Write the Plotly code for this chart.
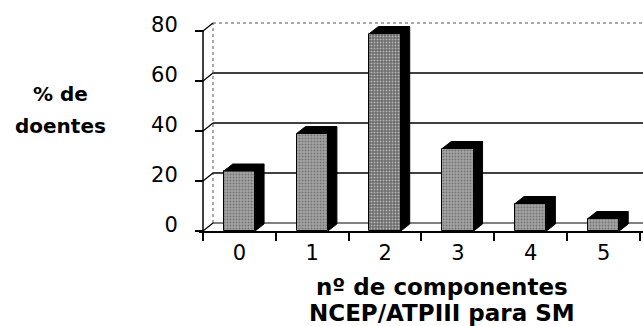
import plotly.graph_objects as go

# ---------------- data ----------------
categories = ["0", "1", "2", "3", "4", "5"]
values = [24, 39, 79, 33, 11, 5]
bar_colors = ["#a4a4a4", "#a4a4a4", "#6a6a6a", "#a4a4a4", "#a4a4a4", "#a4a4a4"]
y_ticks = [0, 20, 40, 60, 80]
y_title_lines = ["% de", "doentes"]
x_title_lines = ["nº de componentes", "NCEP/ATPIII para SM"]

# ---------------- geometry ----------------
W, H = 643, 326
ML, MR, MT, MB = 199, 0, 20, 95
pw, ph = W - ML - MR, H - MT - MB
XPX = 72.83            # pixels per category
YPX = 2.5              # pixels per percent
x_lo = -0.5 - (203 - ML) / XPX
x_hi = x_lo + pw / XPX
y_hi = ph / YPX
DXW, DYW = 10 / XPX, 8 / YPX      # wall depth
DX, DY = 9 / XPX, 7 / YPX         # bar depth
BW = 0.43
FONT = "DejaVu Sans"

xs = list(range(len(categories)))
edges = [i - 0.5 for i in range(len(categories) + 1)]
left = edges[0]

fig = go.Figure()

# front faces of bars
fig.add_trace(go.Bar(
    x=xs, y=values, width=BW,
    marker=dict(color=bar_colors, line=dict(color="black", width=1),
                pattern=dict(shape=".", fgcolor="#1a1a1a", bgcolor=bar_colors,
                             size=3, solidity=0.35)),
    hoverinfo="skip", showlegend=False))

# black side + top faces
px_, py_ = [], []
for i, v in zip(xs, values):
    r, l = i + BW / 2, i - BW / 2
    px_ += [r, r + DX, r + DX, r, r, None]
    py_ += [0, DY, v + DY, v, 0, None]
    px_ += [l, l + DX, r + DX, r, l, None]
    py_ += [v, v + DY, v + DY, v, v, None]
fig.add_trace(go.Scatter(x=px_, y=py_, mode="lines", fill="toself",
                         fillcolor="black", line=dict(color="black", width=1),
                         hoverinfo="skip", showlegend=False))

shapes = []
# back wall gridlines
for v in y_ticks[1:-1]:
    shapes.append(dict(type="line", xref="x", yref="y", layer="below",
                       x0=left + DXW, x1=x_hi, y0=v + DYW, y1=v + DYW,
                       line=dict(color="black", width=1.5)))
top = y_ticks[-1]
shapes.append(dict(type="line", xref="x", yref="y", layer="below",
                   x0=left + DXW, x1=x_hi, y0=top + DYW, y1=top + DYW,
                   line=dict(color="#555", width=1, dash="dot")))
shapes.append(dict(type="line", xref="x", yref="y", layer="below",
                   x0=left + DXW, x1=left + DXW, y0=DYW, y1=top + DYW,
                   line=dict(color="#555", width=1, dash="dot")))
# floor back line
shapes.append(dict(type="line", xref="x", yref="y", layer="below",
                   x0=left + DXW, x1=x_hi, y0=DYW, y1=DYW,
                   line=dict(color="black", width=1)))
# side wall diagonals
for v in y_ticks:
    shapes.append(dict(type="line", xref="x", yref="y", layer="below",
                       x0=left, x1=left + DXW, y0=v, y1=v + DYW,
                       line=dict(color="black", width=1.2)))
# front value axis
shapes.append(dict(type="line", xref="x", yref="y", layer="above",
                   x0=left, x1=left, y0=0, y1=top,
                   line=dict(color="black", width=1.5)))
fig.update_layout(shapes=shapes)

def px2paper(x, y):
    return (x - ML) / pw, (H - MB - y) / ph

ann = []
for text, (cx, cy) in zip(y_title_lines, [(60, 94), (60, 126)]):
    ax, ay = px2paper(cx, cy)
    ann.append(dict(text=text, x=ax, y=ay, xref="paper", yref="paper",
                    showarrow=False, xanchor="center", yanchor="middle",
                    font=dict(family=FONT, size=20, color="black", weight="bold")))
for text, (cx, cy) in zip(x_title_lines, [(442, 287), (442, 313)]):
    ax, ay = px2paper(cx, cy)
    ann.append(dict(text=text, x=ax, y=ay, xref="paper", yref="paper",
                    showarrow=False, xanchor="center", yanchor="middle",
                    font=dict(family=FONT, size=23, color="black", weight="bold")))

fig.update_layout(
    width=W, height=H,
    margin=dict(l=ML, r=MR, t=MT, b=MB, pad=0),
    paper_bgcolor="white", plot_bgcolor="white",
    annotations=ann,
    xaxis=dict(range=[x_lo, x_hi], tickvals=xs, ticktext=categories, ticks="",
               showline=True, linecolor="black", linewidth=1.5,
               showgrid=False, zeroline=False, ticklabelstandoff=2,
               tickfont=dict(family=FONT, size=21, color="black"),
               minor=dict(tickvals=edges, ticks="outside", ticklen=8,
                          tickwidth=1.5, tickcolor="black", showgrid=False)),
    yaxis=dict(range=[0, y_hi], tickvals=y_ticks, anchor="free",
               position=(203 - ML) / pw, ticks="outside", ticklen=8,
               tickwidth=1.5, tickcolor="black", showline=False,
               showgrid=False, zeroline=False, ticklabelshift=-6,
               ticklabelstandoff=13,
               tickfont=dict(family=FONT, size=21, color="black")),
    bargap=0,
)

fig.write_html("out.html")
